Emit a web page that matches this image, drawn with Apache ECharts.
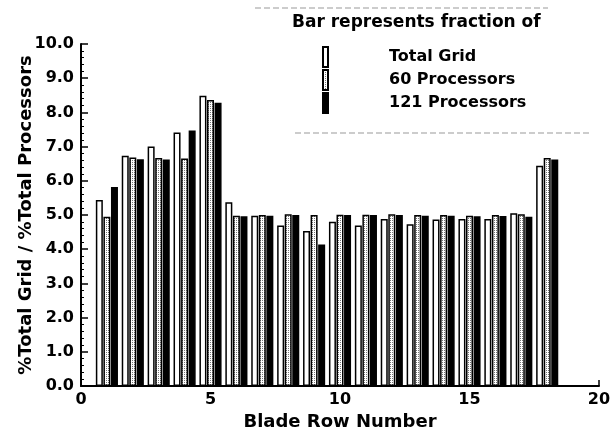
<!DOCTYPE html>
<html>
<head>
<meta charset="utf-8">
<script src="https://cdn.jsdelivr.net/npm/echarts@6/dist/echarts.min.js"></script>
<style>html,body{margin:0;padding:0;background:#fff}#c{width:614px;height:437px}</style>
</head>
<body>
<div id="c"></div>
<script>
var bladeRows = [1,2,3,4,5,6,7,8,9,10,11,12,13,14,15,16,17,18];
var totalGrid   = [5.44,6.73,7.00,7.41,8.49,5.37,4.98,4.69,4.53,4.80,4.69,4.88,4.73,4.87,4.88,4.88,5.05,6.44];
var procs60     = [4.95,6.68,6.67,6.65,8.36,4.98,5.00,5.02,5.00,5.01,5.01,5.02,5.00,5.00,4.98,5.00,5.02,6.67];
var procs121    = [5.82,6.63,6.62,7.47,8.28,4.96,4.98,5.00,4.14,5.00,5.00,5.00,4.98,4.98,4.96,4.97,4.95,6.62];
var xTicks = [0,5,10,15,20];
var seriesNames = ['Total Grid','60 Processors','121 Processors'];

function pairs(vals){ return bladeRows.map(function(r,i){ return [r, vals[i]]; }); }

var cv = document.createElement('canvas');
cv.width = 2; cv.height = 2;
var cx = cv.getContext('2d');
cx.fillStyle = '#fff'; cx.fillRect(0,0,2,2);
cx.fillStyle = '#777'; cx.fillRect(0,0,1,1);
var dotted = {image: cv, repeat: 'repeat'};

var FONT = 'DejaVu Sans';
var chart = echarts.init(document.getElementById('c'), null, {renderer:'canvas'});
chart.setOption({
  animation: false,
  backgroundColor: '#fff',
  title: {
    text: 'Bar represents fraction of',
    left: 287, top: 9,
    textStyle: {fontFamily: FONT, fontWeight: 'bold', fontSize: 17, color: '#000'}
  },
  legend: {
    data: seriesNames,
    orient: 'vertical',
    left: 317, top: 41,
    icon: 'rect',
    itemWidth: 5, itemHeight: 20, itemGap: 1,
    textStyle: {fontFamily: FONT, fontWeight: 'bold', fontSize: 16, lineHeight: 18, color: '#000', padding: [0,0,0,56]},
    selectedMode: false
  },
  graphic: [
    {type:'line', shape:{x1:255,y1:8,x2:548,y2:8}, style:{stroke:'#999', lineWidth:1, lineDash:[6,3]}},
    {type:'line', shape:{x1:295,y1:133,x2:590,y2:133}, style:{stroke:'#999', lineWidth:1, lineDash:[6,3]}}
  ],
  grid: {left: 81, right: 15, top: 44, bottom: 51},
  xAxis: {
    type: 'value', min: 0, max: 20, interval: 5,
    name: 'Blade Row Number', nameLocation: 'middle', nameGap: 25,
    nameTextStyle: {fontFamily: FONT, fontWeight: 'bold', fontSize: 18, color: '#000'},
    axisLine: {show: true, lineStyle: {color: '#000', width: 2}},
    axisTick: {show: true, inside: true, length: 6, lineStyle: {color: '#000', width: 1.5}},
    minorTick: {show: false},
    splitLine: {show: false},
    axisLabel: {fontFamily: FONT, fontWeight: 'bold', fontSize: 16, color: '#000', margin: 6,
      customValues: xTicks}
  },
  yAxis: {
    type: 'value', min: 0, max: 10, interval: 1,
    name: '%Total Grid / %Total Processors', nameLocation: 'middle', nameGap: 46,
    nameMoveOverlap: false,
    nameTextStyle: {fontFamily: FONT, fontWeight: 'bold', fontSize: 18, color: '#000'},
    axisLine: {show: true, lineStyle: {color: '#000', width: 2}},
    axisTick: {show: true, inside: true, length: 7, lineStyle: {color: '#000', width: 1.5}},
    minorTick: {show: true, splitNumber: 5, length: 3, lineStyle: {color: '#000', width: 1}},
    splitLine: {show: false},
    axisLabel: {fontFamily: FONT, fontWeight: 'bold', fontSize: 16, color: '#000', margin: 7,
      formatter: function(v){ return v.toFixed(1); }}
  },
  series: [
    {name: seriesNames[0], type: 'bar', data: pairs(totalGrid), barWidth: 7, barGap: '8%',
     itemStyle: {color: '#fff', borderColor: '#000', borderWidth: 1.5}},
    {name: seriesNames[1], type: 'bar', data: pairs(procs60), barWidth: 7, barGap: '8%',
     itemStyle: {color: dotted, borderColor: '#000', borderWidth: 1.5}},
    {name: seriesNames[2], type: 'bar', data: pairs(procs121), barWidth: 7, barGap: '8%',
     itemStyle: {color: '#000', borderColor: '#000', borderWidth: 1.5}}
  ]
});
</script>
</body>
</html>
